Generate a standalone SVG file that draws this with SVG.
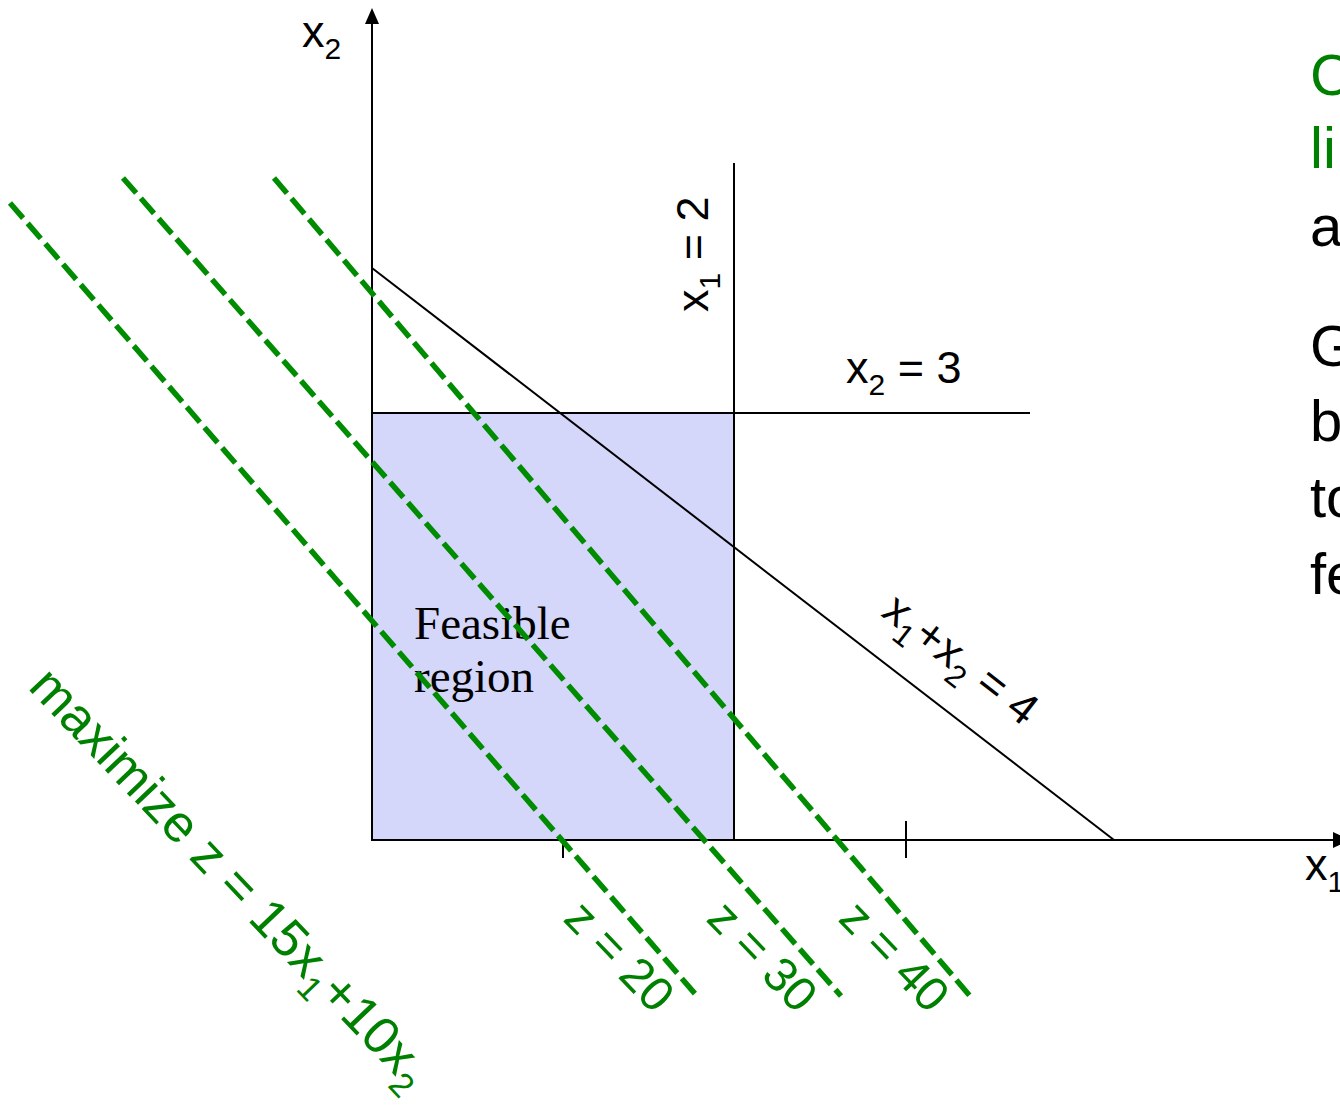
<svg xmlns="http://www.w3.org/2000/svg" width="1340" height="1107" viewBox="0 0 1340 1107">
<style>
.ax{stroke:#000;stroke-width:2;fill:none}
.dash{stroke:#008c00;stroke-width:5.5;stroke-dasharray:20 7;fill:none}
.lbl{font-family:"Liberation Sans",Arial,sans-serif;font-size:45px;fill:#000}
.big{font-family:"Liberation Sans",Arial,sans-serif;font-size:58px;fill:#000}
.serif{font-family:"Liberation Serif","Times New Roman",serif;font-size:47px;fill:#000}
.g{fill:#008000}
.zl{font-size:48px}
.mx{font-size:52px}
</style>
<rect width="1340" height="1107" fill="#fff"/>
<g id="feasible-region">
<rect x="372" y="413" width="362" height="427" fill="#d4d6fa" stroke="#000" stroke-width="2"/>
<text class="serif" x="414" y="639">Feasible</text>
<text class="serif" x="414" y="692">region</text>
</g>
<g id="axes">
<line class="ax" x1="372" y1="840" x2="372" y2="22"/>
<polygon points="372,8 365,24 379,24" fill="#000"/>
<line class="ax" x1="372" y1="840" x2="1335" y2="840"/>
<polygon points="1333,832 1350,840 1333,848" fill="#000"/>
<line class="ax" x1="563" y1="840" x2="563" y2="858"/>
<line class="ax" x1="906" y1="821" x2="906" y2="858"/>
<text class="lbl" x="302" y="47">x<tspan font-size="30" dy="12">2</tspan></text>
<text class="lbl" x="1305" y="880">x<tspan font-size="30" dy="12">1</tspan></text>
</g>
<g id="constraints">
<line class="ax" x1="734" y1="163" x2="734" y2="840"/>
<line class="ax" x1="372" y1="413" x2="1030" y2="413"/>
<line class="ax" x1="372" y1="268" x2="1114" y2="840"/>
<text class="lbl" transform="translate(708,312) rotate(-90)">x<tspan font-size="30" dy="12">1</tspan><tspan dy="-12"> = 2</tspan></text>
<text class="lbl" x="846" y="383">x<tspan font-size="30" dy="12">2</tspan><tspan dy="-12"> = 3</tspan></text>
<text class="lbl" transform="translate(880,615) rotate(38)" font-size="46">x<tspan font-size="31" dy="12">1</tspan><tspan dy="-12">+x</tspan><tspan font-size="31" dy="12">2</tspan><tspan dy="-12"> = 4</tspan></text>
</g>
<g id="objective-lines">
<line class="dash" x1="10" y1="203" x2="697" y2="996"/>
<line class="dash" x1="123" y1="178" x2="841" y2="996"/>
<line class="dash" x1="274" y1="178" x2="970" y2="996"/>
<text class="lbl g zl" transform="translate(562,920) rotate(46)">z = 20</text>
<text class="lbl g zl" transform="translate(705,920) rotate(46)">z = 30</text>
<text class="lbl g zl" transform="translate(837,920) rotate(46)">z = 40</text>
<text class="lbl g mx" transform="translate(27,688) rotate(46.5)">maximize z = 15x<tspan font-size="34" dy="13">1</tspan><tspan dy="-13">+10x</tspan><tspan font-size="34" dy="13">2</tspan></text>
</g>
<g id="side-text">
<text class="big g" x="1310" y="95">C</text>
<text class="big g" x="1310" y="168">li</text>
<text class="big" x="1310" y="246">a</text>
<text class="big" x="1310" y="366">G</text>
<text class="big" x="1310" y="441">b</text>
<text class="big" x="1310" y="517">to</text>
<text class="big" x="1310" y="594">fe</text>
</g>
</svg>
